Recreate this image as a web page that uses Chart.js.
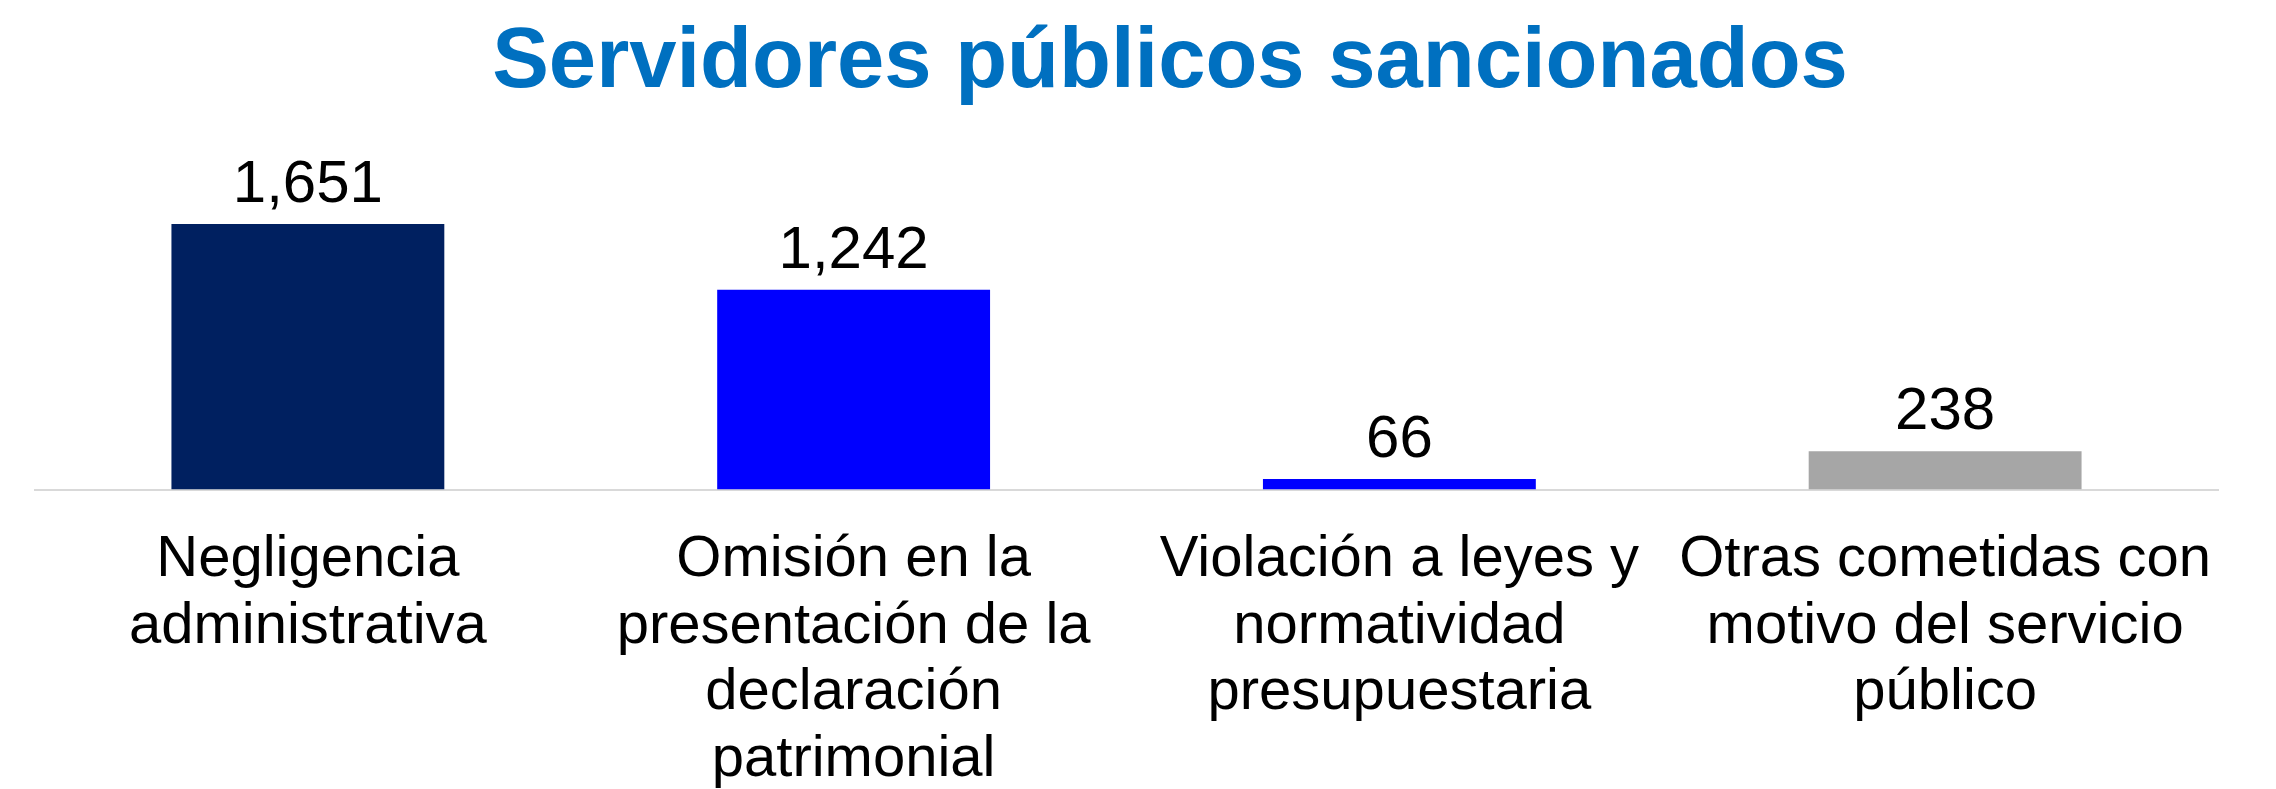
<!DOCTYPE html>
<html lang="es">
<head>
<meta charset="utf-8">
<title>Servidores públicos sancionados</title>
<script src="https://cdn.jsdelivr.net/npm/chart.js@4.4.1/dist/chart.umd.min.js"></script>
<style>
    html, body { margin: 0; padding: 0; background: #ffffff; }
    #wrap { width: 2276px; height: 789px; }
</style>
</head>
<body>
<div id="wrap"><canvas id="myChart" width="2276" height="789"></canvas></div>
<script>
// Datos del gráfico
const titulo = 'Servidores públicos sancionados';
const categorias = [
    ['Negligencia', 'administrativa'],
    ['Omisión en la', 'presentación de la', 'declaración', 'patrimonial'],
    ['Violación a leyes y', 'normatividad', 'presupuestaria'],
    ['Otras cometidas con', 'motivo del servicio', 'público']
];
const sancionados = [1651, 1242, 66, 238];
const colores = ['#002060', '#0000FF', '#0000FF', '#A6A6A6'];

const fuente = "Arial, 'Liberation Sans', sans-serif";

// Título dibujado a mano (va un poco a la derecha del centro)
const tituloPlugin = {
    id: 'tituloPlugin',
    afterDraw(chart) {
        const ctx = chart.ctx;
        ctx.save();
        ctx.font = 'bold 85px ' + fuente;
        ctx.fillStyle = '#0070C0';
        ctx.textAlign = 'center';
        ctx.textBaseline = 'alphabetic';
        ctx.fillText(titulo, 1170, 87);
        ctx.restore();
    }
};

// Etiquetas de valor encima de cada barra
const etiquetasPlugin = {
    id: 'etiquetasPlugin',
    afterDatasetsDraw(chart) {
        const ctx = chart.ctx;
        const meta = chart.getDatasetMeta(0);
        ctx.save();
        ctx.font = '60px ' + fuente;
        ctx.fillStyle = '#000000';
        ctx.textAlign = 'center';
        ctx.textBaseline = 'alphabetic';
        meta.data.forEach((bar, i) => {
            const valor = chart.data.datasets[0].data[i];
            ctx.fillText(valor.toLocaleString('en-US'), bar.x, bar.y - 22);
        });
        ctx.restore();
    }
};

document.addEventListener('DOMContentLoaded', function () {
    const ctx = document.getElementById('myChart').getContext('2d');
    new Chart(ctx, {
        type: 'bar',
        data: {
            labels: categorias,
            datasets: [{
                label: titulo,
                data: sancionados,
                backgroundColor: colores,
                borderWidth: 0,
                barPercentage: 0.5,
                categoryPercentage: 1.0
            }]
        },
        options: {
            responsive: false,
            animation: false,
            layout: {
                // el eje baja un poco y la última línea queda cortada, como en el original
                padding: { top: 168, left: 35, right: 58, bottom: -22 }
            },
            plugins: {
                legend: { display: false },
                title: { display: false },
                tooltip: { enabled: false }
            },
            scales: {
                x: {
                    grid: { display: false, drawTicks: false },
                    border: { display: true, color: '#D9D9D9', width: 2 },
                    ticks: {
                        color: '#000000',
                        padding: 37,
                        maxRotation: 0,
                        autoSkip: false,
                        font: { family: fuente, size: 58, lineHeight: 1.15 }
                    }
                },
                y: {
                    display: false,
                    min: 0,
                    max: 2000
                }
            }
        },
        plugins: [tituloPlugin, etiquetasPlugin]
    });
});
</script>
</body>
</html>
